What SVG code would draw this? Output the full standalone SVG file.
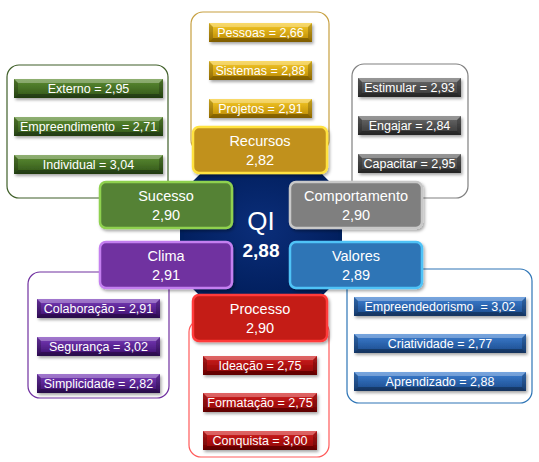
<svg xmlns="http://www.w3.org/2000/svg" xmlns:xlink="http://www.w3.org/1999/xlink" width="539" height="462" viewBox="0 0 539 462">
<style>
  text { font-family: "Liberation Sans", Arial, sans-serif; fill: #ffffff; text-anchor: middle; }
  .bt { font-size: 12.5px; }
  .nt { font-size: 14.5px; }
  .cont { fill: #ffffff; stroke-width: 1.2; }
  .box { stroke-width: 2.5; filter: url(#sh); }
  .hi { fill: #ffffff; fill-opacity: 0.3; }
  .lo { fill: #000000; fill-opacity: 0.3; }
  .sd { fill: #000000; fill-opacity: 0.2; }
</style>
<defs>
  <filter id="sh" x="-10%" y="-10%" width="130%" height="140%">
    <feDropShadow dx="1.5" dy="2" stdDeviation="1.5" flood-color="#000" flood-opacity="0.35"/>
  </filter>
  <radialGradient id="oct" cx="0.5" cy="0.45" r="0.6">
    <stop offset="0" stop-color="#0B2E7A"/>
    <stop offset="1" stop-color="#001D5A"/>
  </radialGradient>
  <linearGradient id="gGold" x1="0" y1="0" x2="0" y2="1"><stop offset="0" stop-color="#F7CB2A"/><stop offset="1" stop-color="#B88600"/></linearGradient>
  <linearGradient id="gGreen" x1="0" y1="0" x2="0" y2="1"><stop offset="0" stop-color="#5E8E33"/><stop offset="1" stop-color="#2F5418"/></linearGradient>
  <linearGradient id="gGray" x1="0" y1="0" x2="0" y2="1"><stop offset="0" stop-color="#6A6A6A"/><stop offset="1" stop-color="#353535"/></linearGradient>
  <linearGradient id="gPurple" x1="0" y1="0" x2="0" y2="1"><stop offset="0" stop-color="#7A3CBA"/><stop offset="1" stop-color="#3A0E6A"/></linearGradient>
  <linearGradient id="gBlue" x1="0" y1="0" x2="0" y2="1"><stop offset="0" stop-color="#3D7FD2"/><stop offset="1" stop-color="#1B4A8A"/></linearGradient>
  <linearGradient id="gRed" x1="0" y1="0" x2="0" y2="1"><stop offset="0" stop-color="#D42222"/><stop offset="1" stop-color="#880000"/></linearGradient>
  <g id="barGold" filter="url(#sh)"><rect width="103" height="19" fill="url(#gGold)"/><polygon class="hi" points="0,0 103,0 99,4 4,4"/><polygon class="lo" points="0,19 103,19 99,15 4,15"/><polygon class="sd" points="0,0 4,4 4,15 0,19"/><polygon class="sd" points="103,0 99,4 99,15 103,19"/></g>
  <g id="barGreen" filter="url(#sh)"><rect width="149" height="19" fill="url(#gGreen)"/><polygon class="hi" points="0,0 149,0 145,4 4,4"/><polygon class="lo" points="0,19 149,19 145,15 4,15"/><polygon class="sd" points="0,0 4,4 4,15 0,19"/><polygon class="sd" points="149,0 145,4 145,15 149,19"/></g>
  <g id="barGray" filter="url(#sh)"><rect width="103" height="19" fill="url(#gGray)"/><polygon class="hi" points="0,0 103,0 99,4 4,4"/><polygon class="lo" points="0,19 103,19 99,15 4,15"/><polygon class="sd" points="0,0 4,4 4,15 0,19"/><polygon class="sd" points="103,0 99,4 99,15 103,19"/></g>
  <g id="barPurple" filter="url(#sh)"><rect width="123" height="19" fill="url(#gPurple)"/><polygon class="hi" points="0,0 123,0 119,4 4,4"/><polygon class="lo" points="0,19 123,19 119,15 4,15"/><polygon class="sd" points="0,0 4,4 4,15 0,19"/><polygon class="sd" points="123,0 119,4 119,15 123,19"/></g>
  <g id="barBlue" filter="url(#sh)"><rect width="172" height="19" fill="url(#gBlue)"/><polygon class="hi" points="0,0 172,0 168,4 4,4"/><polygon class="lo" points="0,19 172,19 168,15 4,15"/><polygon class="sd" points="0,0 4,4 4,15 0,19"/><polygon class="sd" points="172,0 168,4 168,15 172,19"/></g>
  <g id="barRed" filter="url(#sh)"><rect width="114" height="19" fill="url(#gRed)"/><polygon class="hi" points="0,0 114,0 110,4 4,4"/><polygon class="lo" points="0,19 114,19 110,15 4,15"/><polygon class="sd" points="0,0 4,4 4,15 0,19"/><polygon class="sd" points="114,0 110,4 110,15 114,19"/></g>
</defs>
<rect width="539" height="462" fill="#ffffff"/>

<g id="connectors"/>

<g id="qi">
  <polygon points="207,170 315,170 340,195 340,275 315,300 207,300 182,275 182,195" fill="url(#oct)" stroke="#00205E" stroke-width="4" stroke-linejoin="round"/>
  <text x="261" y="230" style="font-size:26px">QI</text>
  <text x="261" y="257" style="font-size:19px;font-weight:bold">2,88</text>
</g>

<g id="recursos">
  <rect class="cont" x="191" y="12" width="138" height="140" rx="12" stroke="#C7A040"/>
  <use xlink:href="#barGold" x="209" y="23"/>
  <text class="bt" x="260.5" y="37">Pessoas = 2,66</text>
  <use xlink:href="#barGold" x="209" y="61"/>
  <text class="bt" x="260.5" y="75">Sistemas = 2,88</text>
  <use xlink:href="#barGold" x="209" y="99"/>
  <text class="bt" x="260.5" y="113">Projetos = 2,91</text>
  <rect class="box" x="193" y="127" width="134" height="46" rx="6" fill="#C1911E" stroke="#FFE240"/>
  <text class="nt" x="260" y="146">Recursos</text>
  <text class="nt" x="260" y="165">2,82</text>
</g>

<g id="sucesso">
  <rect class="cont" x="7" y="65" width="161" height="133" rx="12" stroke="#3F5F28"/>
  <use xlink:href="#barGreen" x="14" y="79"/>
  <text class="bt" x="88.5" y="93">Externo = 2,95</text>
  <use xlink:href="#barGreen" x="14" y="117"/>
  <text class="bt" x="88.5" y="131" xml:space="preserve">Empreendimento  = 2,71</text>
  <use xlink:href="#barGreen" x="14" y="155"/>
  <text class="bt" x="88.5" y="169">Individual = 3,04</text>
  <rect class="box" x="100" y="182" width="132" height="46" rx="6" fill="#548235" stroke="#8FD14F"/>
  <text class="nt" x="166" y="201">Sucesso</text>
  <text class="nt" x="166" y="220">2,90</text>
</g>

<g id="comportamento">
  <rect class="cont" x="352" y="64" width="116" height="134" rx="12" stroke="#808080"/>
  <use xlink:href="#barGray" x="358" y="78"/>
  <text class="bt" x="409.5" y="92">Estimular = 2,93</text>
  <use xlink:href="#barGray" x="358" y="116"/>
  <text class="bt" x="409.5" y="130">Engajar = 2,84</text>
  <use xlink:href="#barGray" x="358" y="154"/>
  <text class="bt" x="409.5" y="168">Capacitar = 2,95</text>
  <rect class="box" x="290" y="182" width="132" height="46" rx="6" fill="#7F7F7F" stroke="#C8C8C8"/>
  <text class="nt" x="356" y="201">Comportamento</text>
  <text class="nt" x="356" y="220">2,90</text>
</g>

<g id="clima">
  <rect class="cont" x="28" y="272" width="141" height="126" rx="12" stroke="#7030A0"/>
  <use xlink:href="#barPurple" x="37" y="299"/>
  <text class="bt" x="98.5" y="313">Colaboração = 2,91</text>
  <use xlink:href="#barPurple" x="37" y="337"/>
  <text class="bt" x="98.5" y="351">Segurança = 3,02</text>
  <use xlink:href="#barPurple" x="37" y="374"/>
  <text class="bt" x="98.5" y="388">Simplicidade = 2,82</text>
  <rect class="box" x="100" y="242" width="132" height="46" rx="6" fill="#7030A0" stroke="#C47FF0"/>
  <text class="nt" x="166" y="261">Clima</text>
  <text class="nt" x="166" y="280">2,91</text>
</g>

<g id="valores">
  <rect class="cont" x="347" y="269" width="185" height="134" rx="12" stroke="#2E75B6"/>
  <use xlink:href="#barBlue" x="354" y="297"/>
  <text class="bt" x="440" y="311" xml:space="preserve">Empreendedorismo  = 3,02</text>
  <use xlink:href="#barBlue" x="354" y="334"/>
  <text class="bt" x="440" y="348">Criatividade = 2,77</text>
  <use xlink:href="#barBlue" x="354" y="372"/>
  <text class="bt" x="440" y="386">Aprendizado = 2,88</text>
  <rect class="box" x="290" y="242" width="132" height="46" rx="6" fill="#2E75B6" stroke="#4FC3F7"/>
  <text class="nt" x="356" y="261">Valores</text>
  <text class="nt" x="356" y="280">2,89</text>
</g>

<g id="processo">
  <rect class="cont" x="189" y="320" width="140" height="137" rx="12" stroke="#FF5A5A"/>
  <use xlink:href="#barRed" x="203" y="356"/>
  <text class="bt" x="260" y="370">Ideação = 2,75</text>
  <use xlink:href="#barRed" x="203" y="393"/>
  <text class="bt" x="260" y="407">Formatação = 2,75</text>
  <use xlink:href="#barRed" x="203" y="431"/>
  <text class="bt" x="260" y="445">Conquista = 3,00</text>
  <rect class="box" x="193" y="295" width="134" height="46" rx="6" fill="#C41A16" stroke="#FF3B3B"/>
  <text class="nt" x="260" y="314">Processo</text>
  <text class="nt" x="260" y="333">2,90</text>
</g>
</svg>
